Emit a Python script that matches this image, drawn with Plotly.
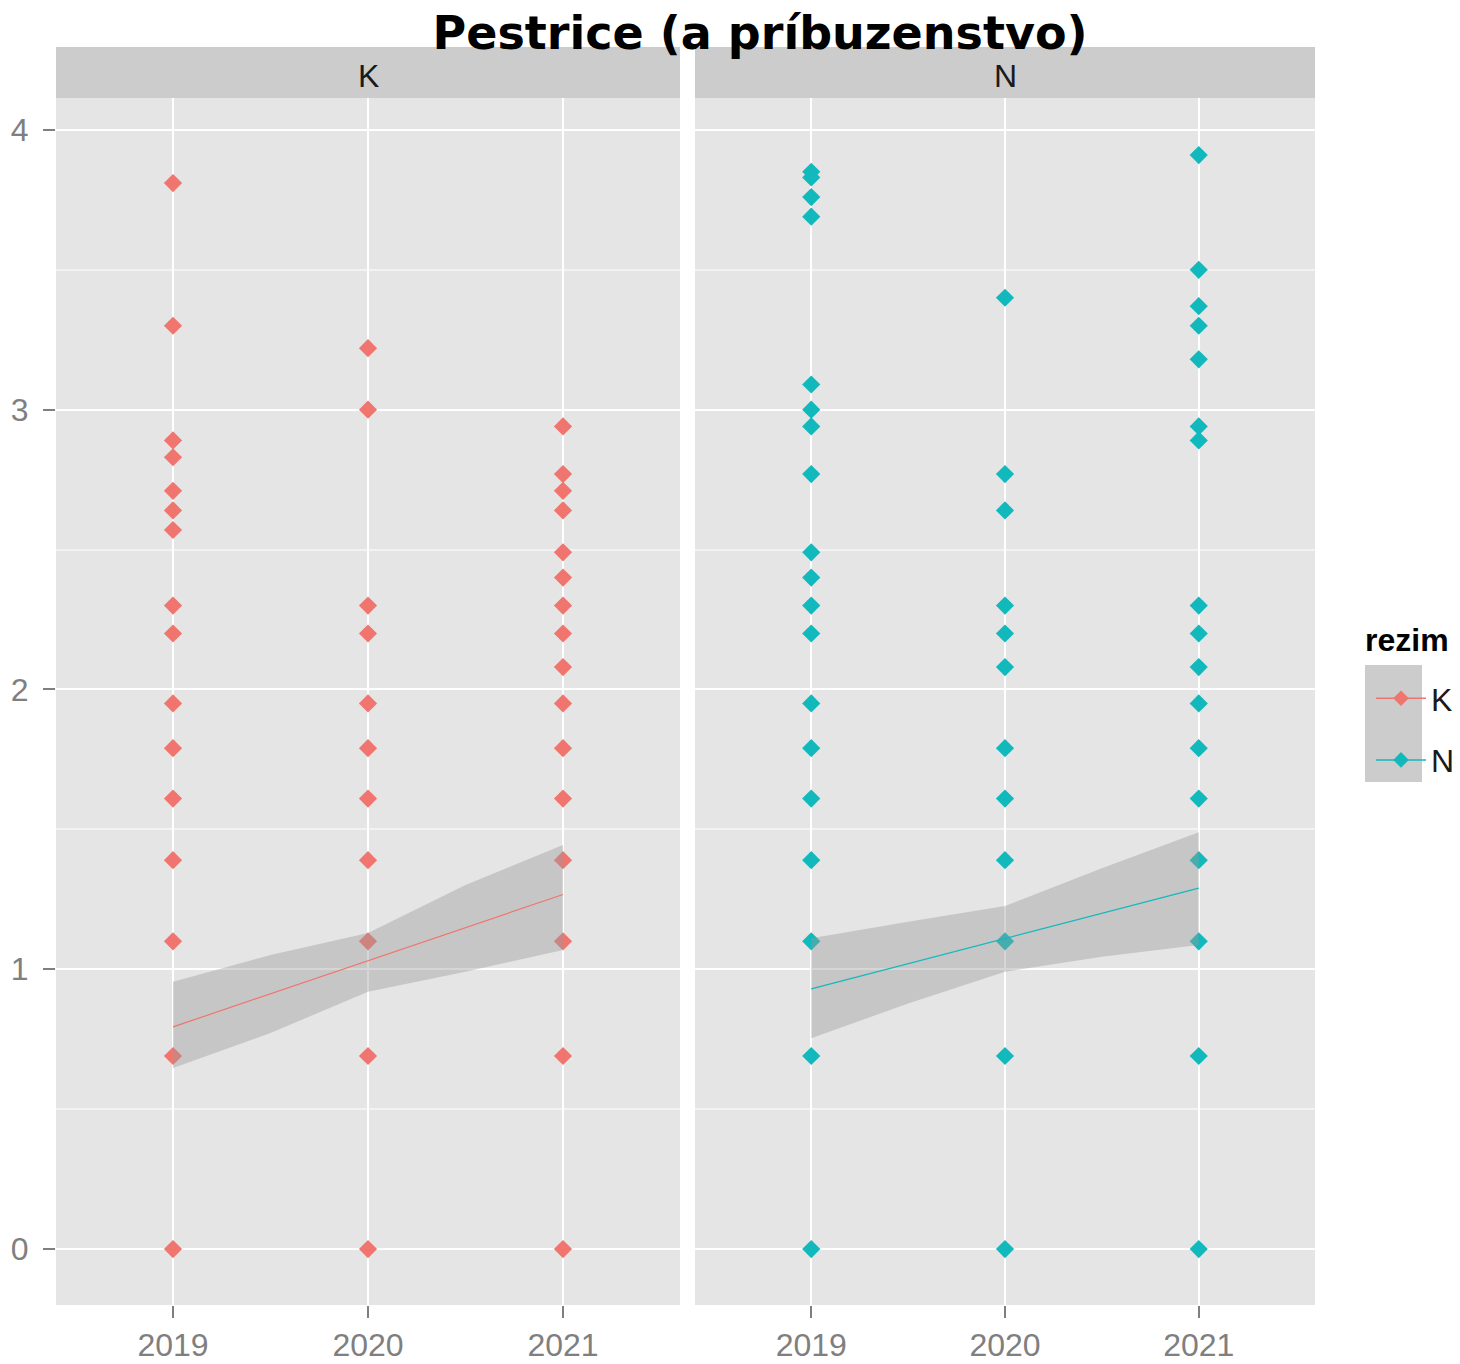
import plotly.graph_objects as go

# ---------------- data ----------------
years = [2019, 2020, 2021]
year_labels = ["2019", "2020", "2021"]

K_2019 = [3.81, 3.30, 2.89, 2.83, 2.71, 2.64, 2.57, 2.30, 2.20, 1.95, 1.79, 1.61, 1.39, 1.10, 0.69, 0.0]
K_2020 = [3.22, 3.00, 2.30, 2.20, 1.95, 1.79, 1.61, 1.39, 1.10, 0.69, 0.0]
K_2021 = [2.94, 2.77, 2.71, 2.64, 2.49, 2.40, 2.30, 2.20, 2.08, 1.95, 1.79, 1.61, 1.39, 1.10, 0.69, 0.0]

N_2019 = [3.85, 3.83, 3.76, 3.69, 3.09, 3.00, 2.94, 2.77, 2.49, 2.40, 2.30, 2.20, 1.95, 1.79, 1.61, 1.39, 1.10, 0.69, 0.0]
N_2020 = [3.40, 2.77, 2.64, 2.30, 2.20, 2.08, 1.79, 1.61, 1.39, 1.10, 0.69, 0.0]
N_2021 = [3.91, 3.50, 3.37, 3.30, 3.18, 2.94, 2.89, 2.30, 2.20, 2.08, 1.95, 1.79, 1.61, 1.39, 1.10, 0.69, 0.0]

fit_x = [2019, 2019.5, 2020, 2020.5, 2021]
K_fit = [0.794, 0.912, 1.030, 1.148, 1.267]
K_lo = [0.647, 0.772, 0.920, 0.991, 1.069]
K_hi = [0.955, 1.051, 1.130, 1.301, 1.444]
N_fit = [0.930, 1.020, 1.110, 1.200, 1.290]
N_lo = [0.753, 0.878, 0.991, 1.045, 1.087]
N_hi = [1.111, 1.170, 1.226, 1.361, 1.490]

y_ticks = [0, 1, 2, 3, 4]
y_minor = [0.5, 1.5, 2.5, 3.5]

title_text = "Pestrice (a príbuzenstvo)"
legend_title = "rezim"

# ---------------- style ----------------
COL_K = "#F0756E"
COL_N = "#12B9BC"
RIBBON = "rgba(153,153,153,0.4)"
PANEL_BG = "#E5E5E5"
STRIP_BG = "#CCCCCC"
TICK_GREY = "#7F7F7F"
FONT = "Liberation Sans, Arial, sans-serif"


def xs_for(year, vals):
    return [year] * len(vals)


fig = go.Figure()

groups = [
    ("K", [K_2019, K_2020, K_2021], K_fit, K_lo, K_hi, COL_K, "x", "y"),
    ("N", [N_2019, N_2020, N_2021], N_fit, N_lo, N_hi, COL_N, "x2", "y2"),
]

for name, series, fit, lo, hi, col, xa, ya in groups:
    px, py = [], []
    for yr, vals in zip(years, series):
        px += xs_for(yr, vals)
        py += vals
    fig.add_trace(go.Scatter(
        x=px, y=py, mode="markers", xaxis=xa, yaxis=ya, showlegend=False,
        marker=dict(symbol="diamond", size=14, color=col, line=dict(width=0)),
        hoverinfo="x+y"))
    fig.add_trace(go.Scatter(
        x=fit_x + fit_x[::-1], y=hi + lo[::-1], mode="lines", fill="toself",
        fillcolor=RIBBON, line=dict(width=0), xaxis=xa, yaxis=ya,
        showlegend=False, hoverinfo="skip"))
    fig.add_trace(go.Scatter(
        x=fit_x, y=fit, mode="lines", line=dict(color=col, width=1.2),
        xaxis=xa, yaxis=ya, showlegend=False, hoverinfo="skip"))

# legend entries (point + line, as in ggplot key)
for name, col in [("K", COL_K), ("N", COL_N)]:
    fig.add_trace(go.Scatter(
        x=[None], y=[None], mode="lines+markers", name=name, legendgroup=name,
        line=dict(color=col, width=1.5),
        marker=dict(symbol="diamond", size=12, color=col)))

W, H = 1460, 1364
ML, MR, MT, MB = 56, 145, 98, 59
PW = W - ML - MR
PH = H - MT - MB

def px_x(p):
    return (p - ML) / PW

def px_y(p):
    return (H - MB - p) / PH

x_common = dict(
    range=[2018.4, 2021.6], tickvals=years, ticktext=year_labels,
    showgrid=True, gridcolor="white", gridwidth=2, zeroline=False,
    ticks="outside", ticklen=12, tickwidth=1.5, tickcolor=TICK_GREY,
    tickfont=dict(family=FONT, size=32, color=TICK_GREY), showline=False,
    automargin=False,
)
y_common = dict(
    range=[-0.2, 4.114], tickvals=y_ticks, ticktext=[str(v) for v in y_ticks],
    showgrid=True, gridcolor="white", gridwidth=2, zeroline=False,
    minor=dict(tickvals=y_minor, showgrid=True, gridcolor="#F2F2F2", gridwidth=1.5, ticks=""),
    showline=False, automargin=False,
)

fig.update_layout(
    width=W, height=H,
    margin=dict(l=ML, r=MR, t=MT, b=MB, autoexpand=False),
    paper_bgcolor="white", plot_bgcolor=PANEL_BG,
    font=dict(family=FONT),
    xaxis=dict(domain=[0, px_x(680)], anchor="y", **x_common),
    xaxis2=dict(domain=[px_x(695), 1], anchor="y2", **x_common),
    yaxis=dict(domain=[0, 1], anchor="x", ticks="outside", ticklen=12, tickwidth=1.5,
               tickcolor=TICK_GREY, tickfont=dict(family=FONT, size=32, color=TICK_GREY),
               ticklabelstandoff=8, **y_common),
    yaxis2=dict(domain=[0, 1], anchor="x2", matches="y", showticklabels=False, ticks="",
                **y_common),
    title=dict(text="<b>" + title_text + "</b>", x=760 / W, xanchor="center", xref="container",
               y=1 - 33 / H, yanchor="middle", yref="container",
               font=dict(family="DejaVu Sans, Noto Sans, sans-serif", size=46, color="black")),
    legend=dict(
        x=px_x(1371), xanchor="left", y=px_y(671), yanchor="top",
        font=dict(family=FONT, size=32, color="#1A1A1A"),
        bgcolor="rgba(0,0,0,0)", tracegroupgap=17, itemwidth=50,
    ),
    showlegend=True,
)

# facet strips
for xa, ya, label in [("x", "y", "K"), ("x2", "y2", "N")]:
    fig.add_shape(type="rect", xref=xa + " domain", yref=ya + " domain",
                  x0=0, x1=1, y0=1, y1=1 + 51 / PH, fillcolor=STRIP_BG,
                  line=dict(width=0), layer="below")
    fig.add_annotation(xref=xa + " domain", yref=ya + " domain", x=0.5, y=1 + 22 / PH,
                       text=label, showarrow=False, yanchor="middle",
                       font=dict(family=FONT, size=32, color="#1A1A1A"))

# legend title and key background
fig.add_annotation(xref="paper", yref="paper", x=px_x(1363), y=px_y(640),
                   xanchor="left", yanchor="middle", showarrow=False,
                   text="<b>" + legend_title + "</b>",
                   font=dict(family=FONT, size=32, color="black"))
fig.add_shape(type="rect", xref="paper", yref="paper",
              x0=px_x(1365), x1=px_x(1422), y0=px_y(782), y1=px_y(665),
              fillcolor=STRIP_BG, line=dict(width=0), layer="below")

fig.write_html("out.html")
